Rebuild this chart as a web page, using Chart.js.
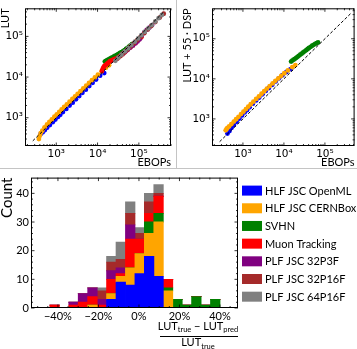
<!DOCTYPE html>
<html><head><meta charset="utf-8">
<script src="https://cdn.jsdelivr.net/npm/chart.js@4.4.1/dist/chart.umd.min.js"></script>
<style>
html,body{margin:0;padding:0;background:#fff;}
#wrap{position:relative;width:357px;height:349px;overflow:hidden;background:#fff;}
canvas{position:absolute;}
.sep{position:absolute;background:#c4c4c4;}
</style></head><body>
<div id="wrap">
<canvas id="cA" style="left:0;top:0" width="176" height="168"></canvas>
<canvas id="cB" style="left:177px;top:0" width="180" height="168"></canvas>
<canvas id="cC" style="left:0;top:169px" width="357" height="180"></canvas>
<div class="sep" style="left:176px;top:0;width:1px;height:168px"></div>
<div class="sep" style="left:0;top:168px;width:357px;height:1px"></div>
</div>
<script>
// ---------------- data ----------------
const seriesNames = ['HLF JSC OpenML','HLF JSC CERNBox','SVHN','Muon Tracking','PLF JSC 32P3F','PLF JSC 32P16F','PLF JSC 64P16F'];
const seriesColors = ['#0000ff','#ffa500','#008000','#ff0000','#800080','#a52a2a','#808080'];

const ebops_openml = [420,470,530,600,700,820,950,1100,1250,1450,1750,2100,2500,3000,3600,4300,5200,6300,7600,9200,11500,14500];
const lut_openml   = [400,440,500,570,660,780,900,1050,1180,1380,1650,2000,2350,2850,3400,4100,4900,6000,7200,8700,10800,12500];
const lutdsp_openml= [430,500,600,700,850,1020,1220,1450,1650,1950,2400,2900,3400,4100,5000,5900,7100,8600,10300,12300,14800,17500];

const ebops_cernbox = [380,400,420,460,520,600,680,780,900,1030,1180,1350,1550,1800,2100,2450,2850,3300,3850,4500,5300,6200,7300,8600,10200,12500,16000,19000];
const lut_cernbox   = [300,360,420,480,580,690,790,910,1060,1210,1390,1600,1840,2130,2480,2890,3360,3880,4500,5250,6150,7150,8400,9800,11500,13800,17000,19500];
const lutdsp_cernbox= [520,560,600,650,740,860,980,1130,1320,1520,1750,2020,2320,2700,3150,3650,4250,4900,5700,6600,7700,8900,10300,11900,13800,16200,19500,22000];

const ebops_svhn = [15000,16000,17200,18500,20000,21500,23000,25000,27000,29500,32000,35000,38000,41000,45000,49000,53000,58000,63000,68000];
const lut_svhn   = [24000,25000,26000,27000,28500,29500,30500,32000,33500,35000,37000,39000,41000,43000,46000,49000,52000,56000,60000,64000];
const lutdsp_svhn= [27000,28500,30000,31500,33500,35500,37500,40000,42500,45500,48500,52000,55500,59000,63000,67000,70500,74500,78000,81000];

const ebops_muon = [12800,13200,13800,14500,15500,16800,18200,20000,22000,24500,27500,31000,35000,40000,46000,53000,62000,72000,85000,100000,115000];
const lut_muon   = [14000,15500,17000,18500,19500,21000,22500,24500,25500,27000,28500,30000,32500,36000,41000,46000,53000,60000,70000,84000,95000];

const ebops_32p3f = [42000,48000,55000,63000,72000,82000,93000,105000,118000,135000,155000,180000,210000];
const lut_32p3f   = [38000,43000,48000,54000,60000,67000,75000,85000,105000,125000,145000,165000,190000];

const ebops_32p16f = [30000,36000,43000,52000,62000,75000,90000,110000,135000,165000,200000,250000,320000,400000];
const lut_32p16f   = [28000,33000,39000,47000,56000,67000,80000,97000,120000,148000,180000,225000,290000,360000];

const ebops_64p16f = [27000,32000,38000,46000,55000,66000,80000,96000,115000,140000,170000,205000,250000,300000,360000];
const lut_64p16f   = [25000,30000,35500,43000,51000,61000,74000,89000,107000,130000,158000,190000,232000,280000,335000];

const refLine = [270, 420000];

const logTickValues = [1000, 10000, 100000];
const logTickLabels = ['10³','10⁴','10⁵'];

// histogram (bin centres in %, counts per series)
const binCenters = [-41.62,-36.95,-32.29,-27.63,-22.96,-18.30,-13.64,-8.97,-4.31,0.36,5.02,9.68,14.35,19.01,23.67,28.34,33.00,37.67];
const hist_openml  = [0,0,0,0,0,0,3,9,8,12,18,11,0,0,0,0,0,0];
const hist_cernbox = [0,0,0,0,1,0,2,2,6,7,8,19,6,0,0,0,0,0];
const hist_svhn    = [0,0,0,0,0,0,0,0,0,0,4,3,1,3,1,4,1,3];
const hist_muon    = [1,0,1,2,3,1,5,1,10,5,3,6,3,0,0,0,0,0];
const hist_32p3f   = [0,0,1,3,3,2,3,2,5,0,0,0,0,0,0,0,0,0];
const hist_32p16f  = [0,0,0,0,0,3,3,3,4,2,4,1,0,0,0,0,0,0];
const hist_64p16f  = [0,0,0,0,0,1,2,6,4,2,3,3,0,0,0,0,0,0];
const histXTicks = [-40,-20,0,20,40];
const histXLabels = ['−40%','−20%','0%','20%','40%'];
const histYTicks = [0,10,20,30,40];

// ---------------- helpers ----------------
const pts = (xs, ys) => xs.map((x,i)=>({x:x, y:ys[i]}));
const TXT = 'Lato';

function logMinor(s){
  const out=[]; const lo=Math.floor(Math.log10(s.min)), hi=Math.ceil(Math.log10(s.max));
  for(let e=lo;e<=hi;e++) for(let k=1;k<=9;k++){const v=k*Math.pow(10,e); if(v>=s.min&&v<=s.max) out.push([v,k===1]);}
  return out;
}
function linMinor(s, major, minor){
  const out=[];
  for(let v=Math.ceil(s.min/minor)*minor; v<=s.max+1e-9; v+=minor){
    out.push([v, Math.abs(v/major-Math.round(v/major))<1e-6]);
  }
  return out;
}
const frameTicks = {
  id:'frameTicks',
  afterDraw(chart, args, opts){
    const {ctx, chartArea:a} = chart;
    const xs = chart.scales.x, ys = chart.scales.y;
    ctx.save();
    ctx.strokeStyle='#000'; ctx.lineWidth=0.8;
    const xt = opts.log ? logMinor(xs) : linMinor(xs, 20, 5);
    const yt = opts.log ? logMinor(ys) : linMinor(ys, 10, 2);
    ctx.beginPath();
    xt.forEach(([v,maj])=>{const p=xs.getPixelForValue(v); const L=maj?3.5:2;
      ctx.moveTo(p,a.bottom); ctx.lineTo(p,a.bottom-L); ctx.moveTo(p,a.top); ctx.lineTo(p,a.top+L);});
    yt.forEach(([v,maj])=>{const p=ys.getPixelForValue(v); const L=maj?3.5:2;
      ctx.moveTo(a.left,p); ctx.lineTo(a.left+L,p); ctx.moveTo(a.right,p); ctx.lineTo(a.right-L,p);});
    ctx.stroke();
    ctx.lineWidth=1;
    ctx.strokeRect(a.left+0.5, a.top+0.5, a.right-a.left-1, a.bottom-a.top-1);
    ctx.restore();
  }
};

function logAxis(min, max, fitSize, horizontal, title, titlePad){
  return {
    type:'logarithmic', min:min, max:max,
    afterBuildTicks: s => { s.ticks = logTickValues.map(v=>({value:v, major:true})); },
    ticks:{ callback:(v)=>{const i=logTickValues.indexOf(v); return i>=0?logTickLabels[i]:'';},
      font:{family:'DejaVu Sans', size:10.5}, color:'#000', padding:2, maxRotation:0, autoSkip:false },
    grid:{display:false, drawTicks:false}, border:{display:false},
    title:{display:true, text:title, align:'end', color:'#000', font:{family:TXT, size:11, lineHeight:1}, padding:titlePad},
    afterFit: s => { if(horizontal) s.height = fitSize; else s.width = fitSize; }
  };
}

function scatterSet(label, color, data, order){
  return {label, data, backgroundColor:color, borderColor:color, pointRadius:2.4, pointBorderWidth:0, pointHoverRadius:0, order};
}
function lineSet(){
  return {type:'line', label:'ref', data:[{x:refLine[0],y:refLine[0]},{x:refLine[1],y:refLine[1]}],
    borderColor:'#000', borderWidth:1, borderDash:[3,2], pointRadius:0, fill:false, order:0};
}
const commonOpts = {responsive:false, animation:false, events:[], plugins:{legend:{display:false}, tooltip:{enabled:false}}};

// ---------------- chart A ----------------
new Chart(document.getElementById('cA'), {
  type:'scatter',
  data:{datasets:[
    lineSet(),
    scatterSet(seriesNames[0], seriesColors[0], pts(ebops_openml, lut_openml), 7),
    scatterSet(seriesNames[1], seriesColors[1], pts(ebops_cernbox, lut_cernbox), 6),
    scatterSet(seriesNames[2], seriesColors[2], pts(ebops_svhn, lut_svhn), 5),
    scatterSet(seriesNames[3], seriesColors[3], pts(ebops_muon, lut_muon), 4),
    scatterSet(seriesNames[4], seriesColors[4], pts(ebops_32p3f, lut_32p3f), 3),
    scatterSet(seriesNames[5], seriesColors[5], pts(ebops_32p16f, lut_32p16f), 2),
    scatterSet(seriesNames[6], seriesColors[6], pts(ebops_64p16f, lut_64p16f), 1)
  ]},
  options:Object.assign({}, commonOpts, {
    layout:{padding:{top:0,right:5,left:0,bottom:0}},
    plugins:{legend:{display:false}, tooltip:{enabled:false}, frameTicks:{log:true}},
    scales:{
      x: logAxis(175, 6e5, 22, true, 'EBOPs', {top:0,bottom:0}),
      y: logAxis(202, 4.9e5, 25, false, 'LUT', {top:0,bottom:0})
    }
  }),
  plugins:[frameTicks]
});

// ---------------- chart B ----------------
new Chart(document.getElementById('cB'), {
  type:'scatter',
  data:{datasets:[
    lineSet(),
    scatterSet(seriesNames[0], seriesColors[0], pts(ebops_openml, lutdsp_openml), 7),
    scatterSet(seriesNames[1], seriesColors[1], pts(ebops_cernbox, lutdsp_cernbox), 6),
    scatterSet(seriesNames[2], seriesColors[2], pts(ebops_svhn, lutdsp_svhn), 5)
  ]},
  options:Object.assign({}, commonOpts, {
    layout:{padding:{top:0,right:1,left:0,bottom:0}},
    plugins:{legend:{display:false}, tooltip:{enabled:false}, frameTicks:{log:true}},
    scales:{
      x: logAxis(176, 5.3e5, 22, true, 'EBOPs', {top:0,bottom:0}),
      y: logAxis(211, 5.75e5, 35, false, 'LUT + 55 · DSP', {top:5,bottom:0})
    }
  }),
  plugins:[frameTicks]
});

// ---------------- chart C (histogram) ----------------
const histSeries = [hist_openml, hist_cernbox, hist_svhn, hist_muon, hist_32p3f, hist_32p16f, hist_64p16f];
const legendPlugin = {
  id:'sideLegend',
  afterDraw(chart){
    const {ctx, chartArea:a} = chart;
    ctx.save();
    ctx.font = '11px '+TXT; ctx.textBaseline='middle'; ctx.textAlign='left';
    chart.data.datasets.forEach((ds,i)=>{
      const cy = 21.6 + i*17.68;
      ctx.fillStyle = ds.backgroundColor; ctx.fillRect(a.right+4, cy-5, 20, 10);
      ctx.fillStyle = '#000'; ctx.fillText(ds.label, a.right+27, cy+0.5);
    });
    ctx.restore();
  }
};
const fracTitle = {
  id:'fracTitle',
  afterDraw(chart){
    const {ctx} = chart;
    const cx = 198;
    ctx.save(); ctx.fillStyle='#000'; ctx.textBaseline='alphabetic'; ctx.textAlign='left';
    const big = '11px '+TXT, small = '7.5px '+TXT;
    const parts = [['LUT',big,0],['true',small,2.5],[' − ',big,0],['LUT',big,0],['pred',small,2.5]];
    let w=0; parts.forEach(p=>{ctx.font=p[1]; w+=ctx.measureText(p[0]).width;});
    let x = cx - w/2; const yb = 160.5;
    parts.forEach(p=>{ctx.font=p[1]; ctx.fillText(p[0], x, yb+p[2]); x+=ctx.measureText(p[0]).width;});
    ctx.strokeStyle='#000'; ctx.lineWidth=1;
    ctx.beginPath(); ctx.moveTo(160, 167.5); ctx.lineTo(238, 167.5); ctx.stroke();
    const dparts = [['LUT',big,0],['true',small,2.5]];
    w=0; dparts.forEach(p=>{ctx.font=p[1]; w+=ctx.measureText(p[0]).width;});
    x = cx - w/2; const yd = 177;
    dparts.forEach(p=>{ctx.font=p[1]; ctx.fillText(p[0], x, yd+p[2]); x+=ctx.measureText(p[0]).width;});
    ctx.restore();
  }
};

new Chart(document.getElementById('cC'), {
  type:'bar',
  data:{datasets: histSeries.map((arr,i)=>({
    label: seriesNames[i], backgroundColor: seriesColors[i], borderWidth:0, inflateAmount:0.4,
    data: binCenters.map((c,j)=>({x:c, y:arr[j]})),
    categoryPercentage:1, barPercentage:1
  }))},
  options:Object.assign({}, commonOpts, {
    layout:{padding:{top:7,right:119,left:0,bottom:0}},
    plugins:{legend:{display:false}, tooltip:{enabled:false}, frameTicks:{log:false}},
    scales:{
      x:{ type:'linear', stacked:true, min:-53.3, max:48.9, offset:false,
        afterBuildTicks: s => { s.ticks = histXTicks.map(v=>({value:v})); },
        ticks:{ callback:(v)=>{const i=histXTicks.indexOf(v); return i>=0?histXLabels[i]:'';},
          font:{family:TXT, size:11}, color:'#000', padding:2, maxRotation:0, autoSkip:false },
        grid:{display:false, drawTicks:false}, border:{display:false},
        afterFit: s => { s.height = 41; }
      },
      y:{ type:'linear', stacked:true, min:0, max:45.5,
        afterBuildTicks: s => { s.ticks = histYTicks.map(v=>({value:v})); },
        ticks:{ font:{family:TXT, size:11}, color:'#000', padding:2 },
        grid:{display:false, drawTicks:false}, border:{display:false},
        title:{display:true, text:'Count', align:'end', color:'#000', font:{family:TXT, size:15, lineHeight:1}, padding:{top:0,bottom:0}},
        afterFit: s => { s.width = 31; }
      }
    }
  }),
  plugins:[frameTicks, legendPlugin, fracTitle]
});
</script>
</body></html>
